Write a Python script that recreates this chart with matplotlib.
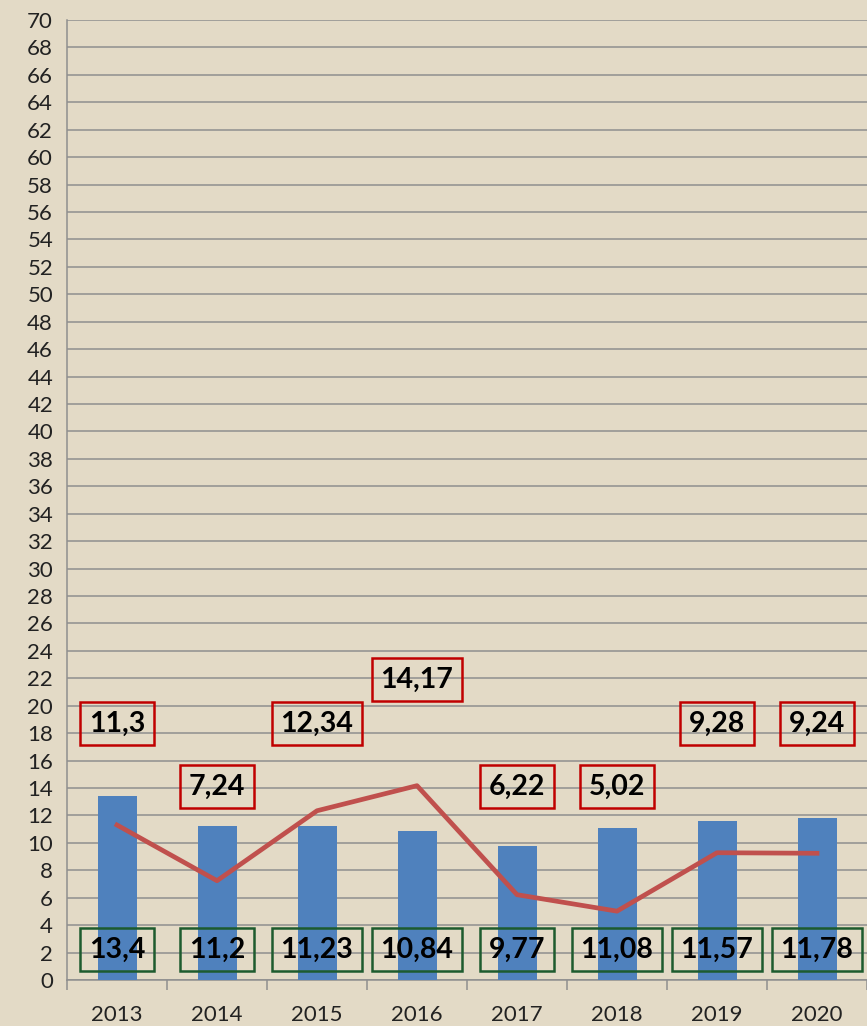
import matplotlib.pyplot as plt
import numpy as np

years = ['2013', '2014', '2015', '2016', '2017', '2018', '2019', '2020']
bar_vals = [13.4, 11.2, 11.23, 10.84, 9.77, 11.08, 11.57, 11.78]
line_vals = [11.3, 7.24, 12.34, 14.17, 6.22, 5.02, 9.28, 9.24]

# where the red value boxes sit (hand placed in the original)
line_label_y = [18.7, 14.1, 18.7, 21.9, 14.1, 14.1, 18.7, 18.7]
bar_label_y = 2.2


def fmt(v):
    return f"{v:g}".replace('.', ',')


plt.rcParams['font.family'] = ['Lato', 'DejaVu Sans']

fig = plt.figure(figsize=(8.67, 10.26), dpi=100)
fig.patch.set_facecolor('#e3dac6')
ax = fig.add_axes([67 / 867, 46 / 1026, 800 / 867, 960 / 1026])
ax.set_facecolor('#e3dac6')

x = np.arange(len(years))

ax.bar(x, bar_vals, width=0.39, color='#4f81bd', zorder=3)
ax.plot(x, line_vals, color='#c0504d', lw=3.4, zorder=4)

for i in x:
    ax.text(i, line_label_y[i], fmt(line_vals[i]), ha='center', va='center',
            fontsize=20.5, fontweight='bold', color='black', zorder=6,
            bbox=dict(boxstyle='square,pad=0.3', fc='none', ec='#c00000', lw=1.8))
    ax.text(i, bar_label_y, fmt(bar_vals[i]), ha='center', va='center',
            fontsize=20.5, fontweight='bold', color='black', zorder=6,
            bbox=dict(boxstyle='square,pad=0.3', fc='none', ec='#1d5b2e', lw=1.8))

ax.set_ylim(0, 70)
ax.set_yticks(np.arange(0, 71, 2))
ax.set_xlim(-0.5, -0.5 + 800 / 101.7)
ax.grid(axis='y', color='#8f8f8f', lw=1.1, zorder=0)

# category labels centred, tick marks on category boundaries
ax.set_xticks(x)
ax.set_xticklabels(years)
ax.set_xticks(np.arange(-0.5, len(years), 1), minor=True)
ax.tick_params(axis='x', which='major', length=0, pad=18, labelsize=16, labelcolor='#222222')
ax.tick_params(axis='x', which='minor', length=7, color='#8f8f8f', width=1.1)
ax.tick_params(axis='y', length=0, pad=10, labelsize=16, labelcolor='#222222')

for s in ['top', 'right']:
    ax.spines[s].set_visible(False)
ax.spines['left'].set_color('#8f8f8f')
ax.spines['bottom'].set_color('#8f8f8f')
ax.spines['left'].set_linewidth(1.1)
ax.spines['bottom'].set_linewidth(1.1)

fig.savefig('out.png', dpi=100, facecolor=fig.get_facecolor())
